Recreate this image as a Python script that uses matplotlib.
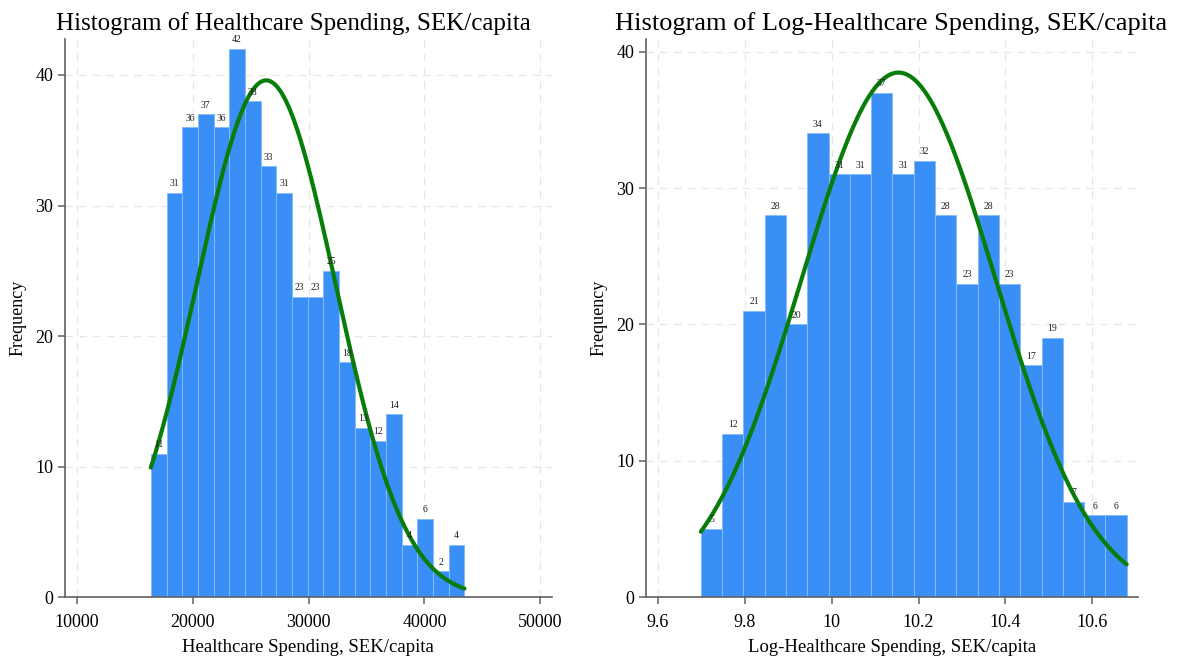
import numpy as np
import matplotlib.pyplot as plt

plt.rcParams['font.family'] = ['Liberation Serif', 'DejaVu Serif']

# ---- Healthcare spending, SEK/capita (20 bins) ----
spend_start = 16370
spend_width = 1354
spend_counts = [11, 31, 36, 37, 36, 42, 38, 33, 31, 23,
                23, 25, 18, 13, 12, 14, 4, 6, 2, 4]
spend_mean = 26330
spend_sd = 5990

# ---- Log-healthcare spending (20 bins) ----
log_start = 9.699
log_width = 0.049
log_counts = [5, 12, 21, 28, 20, 34, 31, 31, 37, 31,
              32, 28, 23, 28, 23, 17, 19, 7, 6, 6]
log_mean = 10.154
log_sd = 0.2231

bar_color = '#3a8ff7'
edge_color = '#86bcf9'
curve_color = '#087d0a'
axis_color = '#606060'


def hist_panel(ax, start, width, counts, mu, sd, xlim, ylim, xticks,
               xticklabels, xlabel):
    counts = np.asarray(counts)
    edges = start + width * np.arange(len(counts))
    ax.bar(edges, counts, width=width, align='edge', color=bar_color,
           edgecolor=edge_color, linewidth=0.7, zorder=2)

    # normal density scaled to frequency
    n = counts.sum()
    xs = np.linspace(edges[0], edges[-1] + width, 300)
    ys = n * width / (sd * np.sqrt(2 * np.pi)) * np.exp(-0.5 * ((xs - mu) / sd) ** 2)
    ax.plot(xs, ys, color=curve_color, lw=3.0, zorder=3, solid_capstyle='round')

    for x0, c in zip(edges, counts):
        ax.text(x0 + width / 2, c + 0.35, str(c), ha='center', va='bottom',
                fontsize=7, color='#222222', zorder=4, clip_on=False)

    ax.set_xlim(*xlim)
    ax.set_ylim(*ylim)
    ax.set_xticks(xticks)
    ax.set_xticklabels(xticklabels)
    ax.set_yticks([0, 10, 20, 30, 40])
    ax.grid(True, color='#e6e6e6', linestyle=(0, (6, 5)), linewidth=0.9, zorder=0)
    ax.set_axisbelow(True)
    for side in ['top', 'right']:
        ax.spines[side].set_visible(False)
    for side in ['left', 'bottom']:
        ax.spines[side].set_color(axis_color)
        ax.spines[side].set_linewidth(1.2)
    ax.tick_params(direction='out', length=5, width=1.1, color=axis_color,
                   labelsize=13)
    ax.tick_params(axis='x', pad=7)
    ax.set_xlabel(xlabel, fontsize=13.5, labelpad=6)
    ax.set_ylabel('Frequency', fontsize=13, labelpad=6)


fig = plt.figure(figsize=(11.8, 6.6), dpi=100)
ax1 = fig.add_axes([0.0551, 0.095, 0.4125, 0.846])
ax2 = fig.add_axes([0.5475, 0.095, 0.4167, 0.846])

hist_panel(ax1, spend_start, spend_width, spend_counts, spend_mean, spend_sd,
           (8960, 50990), (0, 42.76),
           [10000, 20000, 30000, 40000, 50000],
           ['10000', '20000', '30000', '40000', '50000'],
           'Healthcare Spending, SEK/capita')

hist_panel(ax2, log_start, log_width, log_counts, log_mean, log_sd,
           (9.573, 10.7045), (0, 40.93),
           [9.6, 9.8, 10.0, 10.2, 10.4, 10.6],
           ['9.6', '9.8', '10', '10.2', '10.4', '10.6'],
           'Log-Healthcare Spending, SEK/capita')

# panel titles, centred over each half of the figure
fig.text(0.249, 0.955, 'Histogram of Healthcare Spending, SEK/capita',
         ha='center', va='baseline', fontsize=18)
fig.text(0.7555, 0.955, 'Histogram of Log-Healthcare Spending, SEK/capita',
         ha='center', va='baseline', fontsize=19)

fig.savefig('out.png', dpi=100)
